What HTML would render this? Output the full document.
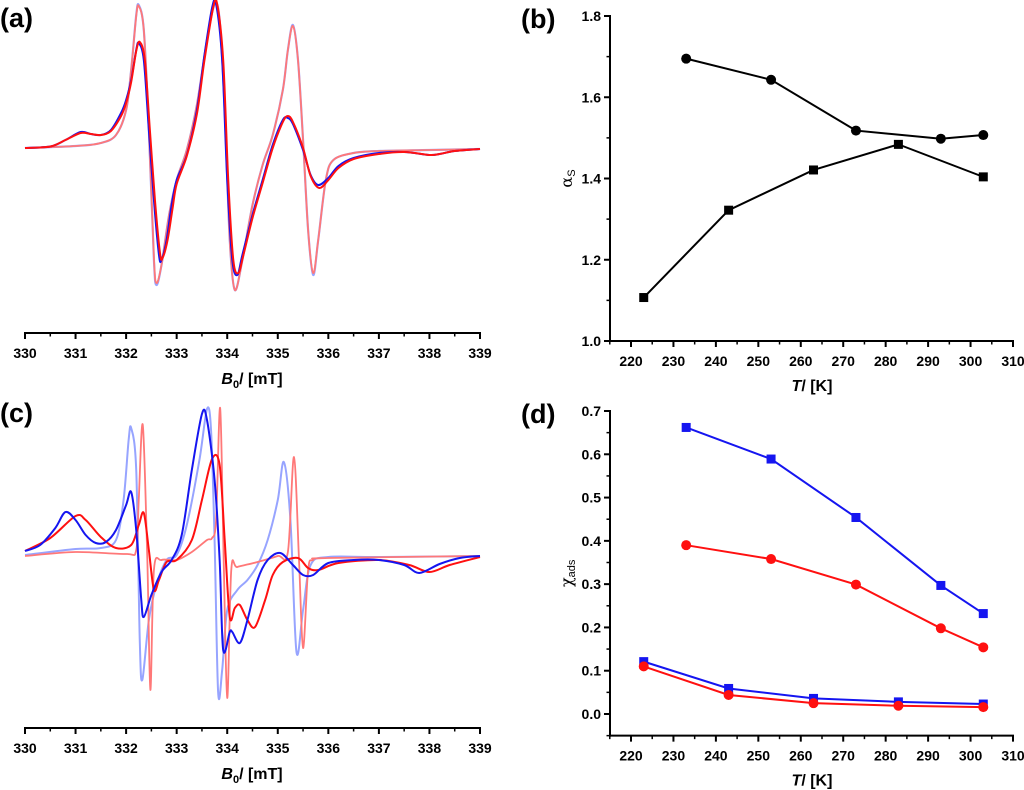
<!DOCTYPE html>
<html><head><meta charset="utf-8"><style>
html,body{margin:0;padding:0;background:#fff;}
svg{display:block;font-family:"Liberation Sans",Arial,sans-serif;}
text.tl{font-size:14px;font-weight:700;fill:#000;}
text.pl{font-size:27px;font-weight:700;fill:#000;}
text.at{font-size:16px;font-weight:700;fill:#000;}
</style></head><body>
<svg id="fig" width="1024" height="790" viewBox="0 0 1024 790" xmlns="http://www.w3.org/2000/svg"></svg>
<script>
// ---------- Data: panel (a) spectra [field mT, intensity a.u.] ----------
const aDarkBlue=[[330,0],[330.5,1.5],[330.8,8],[331.1,16],[331.3,14],[331.5,13],[331.7,18],[331.9,35],[332.0,48],[332.1,68],[332.2,98],[332.25,105],[332.35,88],[332.45,18],[332.55,-52],[332.65,-107],[332.7,-112],[332.8,-92],[332.9,-57],[333.0,-32],[333.2,-7],[333.4,38],[333.55,93],[333.7,140],[333.78,144],[333.9,88],[334.0,-32],[334.1,-112],[334.2,-127],[334.3,-107],[334.5,-67],[334.7,-32],[334.9,3],[335.1,28],[335.2,30],[335.3,24],[335.5,-2],[335.65,-27],[335.8,-37],[336.0,-30],[336.2,-18],[336.5,-10],[337.0,-5],[337.5,-4],[338.0,-7],[338.2,-6],[338.5,-3],[339,-1]];
const aDarkRed=[[330,0],[330.5,1.5],[330.8,8],[331.1,15],[331.3,14],[331.5,13],[331.7,17],[331.9,32],[332.0,45],[332.1,66],[332.2,97],[332.27,106],[332.37,88],[332.47,18],[332.57,-52],[332.67,-105],[332.72,-110],[332.82,-92],[332.92,-60],[333.0,-36],[333.2,-8],[333.4,34],[333.55,88],[333.72,140],[333.8,144],[333.92,88],[334.02,-32],[334.12,-112],[334.22,-125],[334.32,-107],[334.5,-70],[334.7,-35],[334.9,0],[335.1,26],[335.2,32],[335.3,26],[335.5,0],[335.65,-28],[335.82,-40],[336.0,-32],[336.2,-20],[336.5,-11],[337.0,-6],[337.5,-4],[338.0,-7],[338.2,-6],[338.5,-3],[339,-1]];
const aLightBlue=[[330,0],[331,2],[331.5,5],[331.8,13],[332.0,38],[332.1,78],[332.2,133],[332.25,143],[332.35,118],[332.45,18],[332.55,-112],[332.6,-137],[332.7,-117],[332.85,-67],[333.0,-32],[333.2,-2],[333.4,43],[333.6,108],[333.75,144],[333.85,128],[333.95,38],[334.05,-92],[334.15,-142],[334.3,-112],[334.5,-57],[334.7,-17],[334.9,13],[335.1,58],[335.2,98],[335.3,123],[335.4,88],[335.5,8],[335.6,-82],[335.7,-127],[335.8,-92],[335.95,-32],[336.1,-12],[336.5,-5],[337,-3],[338,-2],[339,-1]];
const aLightRed=[[330,0],[331,2],[331.5,5],[331.8,13],[332.0,38],[332.1,78],[332.2,132],[332.25,142],[332.35,118],[332.45,18],[332.55,-110],[332.6,-135],[332.7,-117],[332.85,-67],[333.0,-32],[333.2,-2],[333.4,43],[333.6,108],[333.75,144],[333.85,128],[333.95,38],[334.05,-92],[334.15,-142],[334.3,-112],[334.5,-57],[334.7,-17],[334.9,13],[335.1,58],[335.2,98],[335.3,122],[335.4,88],[335.5,8],[335.6,-82],[335.7,-125],[335.8,-92],[335.95,-32],[336.1,-12],[336.5,-5],[337,-3],[338,-2],[339,-1]];
// ---------- Data: panel (c) spectra ----------
const cDarkBlue=[[330,5],[330.3,11],[330.6,28],[330.8,44],[331.0,36],[331.2,21],[331.4,13],[331.6,14],[331.8,26],[332.0,51],[332.1,64],[332.2,26],[332.3,-44],[332.35,-61],[332.5,-39],[332.7,-16],[332.9,-4],[333.1,21],[333.3,86],[333.5,142],[333.6,136],[333.75,76],[333.85,-4],[333.92,-94],[334.05,-76],[334.1,-76],[334.25,-87],[334.4,-64],[334.6,-24],[334.8,-4],[335.05,3],[335.3,-9],[335.5,-19],[335.7,-19],[336.0,-7],[336.5,-4],[337.0,-4],[337.5,-9],[337.8,-17],[338.2,-8],[338.6,-2],[339,0]];
const cDarkRed=[[330,5],[330.5,18],[331.0,40],[331.2,36],[331.5,19],[331.8,8],[332.1,11],[332.25,31],[332.35,43],[332.45,6],[332.55,-34],[332.65,-24],[332.8,-6],[333.0,-4],[333.3,16],[333.5,56],[333.7,97],[333.85,91],[333.95,16],[334.05,-61],[334.15,-52],[334.25,-49],[334.4,-64],[334.55,-71],[334.75,-44],[334.9,-19],[335.1,-6],[335.4,-2],[335.6,-12],[335.8,-14],[336.2,-7],[337,-4],[337.6,-9],[338.0,-16],[338.4,-9],[339,-1]];
const cLightBlue=[[330,1],[331.0,7],[331.5,8],[331.8,16],[331.95,56],[332.05,116],[332.1,128],[332.2,86],[332.27,-84],[332.32,-124],[332.45,-64],[332.6,-29],[332.8,-4],[333.0,1],[333.2,31],[333.45,96],[333.6,147],[333.68,126],[333.75,16],[333.82,-136],[333.9,-114],[334.0,-54],[334.2,-34],[334.4,-24],[334.6,-9],[334.8,16],[335.0,56],[335.12,94],[335.25,36],[335.37,-96],[335.5,-54],[335.65,-9],[336,-1],[337,-1],[339,0]];
const cLightRed=[[330,0],[331,4],[332,2],[332.2,6],[332.25,56],[332.33,131],[332.42,-4],[332.48,-134],[332.55,-14],[332.7,-4],[333.0,-4],[333.3,4],[333.6,16],[333.7,18],[333.78,36],[333.86,148],[333.93,-4],[334.0,-142],[334.08,-14],[334.2,-11],[334.6,-6],[335.0,0],[335.2,4],[335.32,99],[335.42,-4],[335.5,-92],[335.6,-14],[335.7,-4],[336,-2],[339,0]];
// ---------- Data: panel (b) ----------
const bTempCircle=[233,253,273,293,303];
const bAlphaCircle=[1.695,1.643,1.518,1.498,1.507];
const bTempSquare=[223,243,263,283,303];
const bAlphaSquare=[1.107,1.322,1.421,1.484,1.404];
const bYTicks=["1.0","1.2","1.4","1.6","1.8"];
// ---------- Data: panel (d) ----------
const dTempUpper=[233,253,273,293,303];
const dBlueUpper=[0.662,0.589,0.454,0.297,0.232];
const dRedUpper=[0.390,0.358,0.299,0.198,0.154];
const dTempLower=[223,243,263,283,303];
const dBlueLower=[0.121,0.059,0.036,0.028,0.023];
const dRedLower=[0.110,0.044,0.025,0.019,0.016];
const dYTicks=["0.0","0.1","0.2","0.3","0.4","0.5","0.6","0.7"];
const tTicks=["220","230","240","250","260","270","280","290","300","310"];
const bTicks=["330","331","332","333","334","335","336","337","338","339"];

const NS="http://www.w3.org/2000/svg";
const svg=document.getElementById('fig');
function mk(tag,attrs,parent){const e=document.createElementNS(NS,tag);for(const k in attrs)e.setAttribute(k,attrs[k]);(parent||svg).appendChild(e);return e;}
function lin(d0,d1,r0,r1){return v=>r0+(v-d0)*(r1-r0)/(d1-d0);}
function smoothPath(pts){
  let d='M'+pts[0][0].toFixed(2)+','+pts[0][1].toFixed(2);
  for(let i=0;i<pts.length-1;i++){
    const p0=pts[Math.max(0,i-1)],p1=pts[i],p2=pts[i+1],p3=pts[Math.min(pts.length-1,i+2)];
    const t=0.16;
    const c1=[p1[0]+(p2[0]-p0[0])*t,p1[1]+(p2[1]-p0[1])*t];
    const c2=[p2[0]-(p3[0]-p1[0])*t,p2[1]-(p3[1]-p1[1])*t];
    d+='C'+c1.map(v=>v.toFixed(2)).join(',')+' '+c2.map(v=>v.toFixed(2)).join(',')+' '+p2[0].toFixed(2)+','+p2[1].toFixed(2);
  }
  return d;
}
function label(x,y,txt,cls,anchor,name){const t=mk('text',{x:x,y:y,class:cls,'text-anchor':anchor||'middle','font-weight':'bold'});t.textContent=txt;


return t;}

function spectrumPanel(id,top,axisY,baseY,series,panelLbl){
  const g=mk('g',{});
  
  
  const x=lin(330,339,25,480);
  const y=v=>baseY-v;
  const ax=mk('line',{x1:24,y1:axisY,x2:481,y2:axisY,stroke:'#000','stroke-width':2},g);
  
  
  for(let i=0;i<bTicks.length;i++){
    const v=330+i;
    const tk=mk('line',{x1:x(v),y1:axisY,x2:x(v),y2:axisY+6,stroke:'#000','stroke-width':2},g);
    
    
    label(x(v),axisY+25,bTicks[i],'tl','middle','x-tick-label');
    if(i<bTicks.length-1){
      const mt=mk('line',{x1:x(v+0.5),y1:axisY,x2:x(v+0.5),y2:axisY+3.5,stroke:'#000','stroke-width':1.5},g);
      
      
    }
  }
  const tt=mk('text',{x:252,y:axisY+51,class:'at','text-anchor':'middle','font-weight':'bold'},g);
  tt.innerHTML='<tspan font-style="italic">B</tspan><tspan font-size="11" dy="4">0</tspan><tspan dy="-4">/ [mT]</tspan>';
  
  
  series.forEach(s=>{
    const pts=s.data.map(p=>[x(p[0]),y(p[1])]);
    const p=mk('path',{d:smoothPath(pts),fill:'none',stroke:s.color,'stroke-width':s.w,'stroke-linejoin':'round'},g);
    
    
  });
  label(0,top+27,panelLbl,'pl','start','panel-label-'+id);
}
spectrumPanel('a',0,333,148,[
  {data:aLightBlue,color:'#97a4ff',w:2.2,name:'spectrum-a-light-blue'},
  {data:aLightRed,color:'#ff7878',w:1.8,name:'spectrum-a-light-red'},
  {data:aDarkBlue,color:'#1515f0',w:2,name:'spectrum-a-blue'},
  {data:aDarkRed,color:'#ff1010',w:2,name:'spectrum-a-red'}
],'(a)');
spectrumPanel('c',395,728,556,[
  {data:cLightBlue,color:'#97a4ff',w:2,name:'spectrum-c-light-blue'},
  {data:cLightRed,color:'#ff7878',w:1.8,name:'spectrum-c-light-red'},
  {data:cDarkRed,color:'#ff1010',w:2,name:'spectrum-c-red'},
  {data:cDarkBlue,color:'#1515f0',w:2,name:'spectrum-c-blue'}
],'(c)');

function tempPanel(id,top,yMin,yMax,yTop,yBot,axisBottomVal,ticks,tickStep,series,panelLbl,yTitle,ySub){
  const g=mk('g',{});
  
  
  const x=lin(220,310,631,1013);
  const y=lin(yMin,yMax,yBot,yTop);
  const axB=y(axisBottomVal);
  const yl=mk('line',{x1:610,y1:yTop-1,x2:610,y2:axB+1,stroke:'#000','stroke-width':2},g);
  
  
  const xl=mk('line',{x1:609,y1:axB,x2:1014,y2:axB,stroke:'#000','stroke-width':2},g);
  
  
  for(let i=0;i<tTicks.length;i++){
    const v=220+i*10;
    const tk=mk('line',{x1:x(v),y1:axB,x2:x(v),y2:axB+6,stroke:'#000','stroke-width':2},g);
    
    
    label(x(v),axB+25,tTicks[i],'tl','middle','x-tick-label');
    const mt=mk('line',{x1:x(v-5),y1:axB,x2:x(v-5),y2:axB+3.5,stroke:'#000','stroke-width':1.5},g);
    
    
  }
  for(let i=0;i<ticks.length;i++){
    const v=yMin+i*tickStep;
    const tk=mk('line',{x1:604,y1:y(v),x2:610,y2:y(v),stroke:'#000','stroke-width':2},g);
    
    
    label(601,y(v)+5,ticks[i],'tl','end','y-tick-label');
    const mv=v+tickStep/2;
    if(mv<yMax){
      const mt=mk('line',{x1:606.5,y1:y(mv),x2:610,y2:y(mv),stroke:'#000','stroke-width':1.5},g);
      
      
    }
  }
  if(axisBottomVal<yMin){
    const mt=mk('line',{x1:606.5,y1:y(yMin-tickStep/2),x2:610,y2:y(yMin-tickStep/2),stroke:'#000','stroke-width':1.5},g);
    
    
  }
  const xt=mk('text',{x:812,y:axB+50,class:'at','text-anchor':'middle','font-weight':'bold'},g);
  xt.innerHTML='<tspan font-style="italic">T</tspan>/ [K]';
  
  
  const cy=(yTop+axB)/2;
  const yt=mk('text',{x:0,y:0,transform:'translate(572,'+cy+') rotate(-90)','text-anchor':'middle','font-size':'16',fill:'#000'},g);
  yt.innerHTML='<tspan font-family="DejaVu Serif,serif">'+yTitle+'</tspan><tspan font-size="11" dy="3">'+ySub+'</tspan>';
  
  
  series.forEach(s=>{
    const pts=s.t.map((t,i)=>[x(t),y(s.v[i])]);
    const pl=mk('polyline',{points:pts.map(p=>p.join(',')).join(' '),fill:'none',stroke:s.color,'stroke-width':2},g);
    
    
    pts.forEach(p=>{
      let m;
      if(s.marker==='square') m=mk('rect',{x:p[0]-4.5,y:p[1]-4.5,width:9,height:9,fill:s.color},g);
      else m=mk('circle',{cx:p[0],cy:p[1],r:5,fill:s.color},g);
      
      
    });
  });
  label(521,top+28,panelLbl,'pl','start','panel-label-'+id);
}
tempPanel('b',0,1.0,1.8,16,341,1.0,bYTicks,0.2,[
  {t:bTempCircle,v:bAlphaCircle,color:'#000',marker:'circle',name:'alpha-circle-series'},
  {t:bTempSquare,v:bAlphaSquare,color:'#000',marker:'square',name:'alpha-square-series'}
],'(b)','α','S');
tempPanel('d',395,0.0,0.7,411,714,-0.05,dYTicks,0.1,[
  {t:dTempUpper,v:dBlueUpper,color:'#1515f0',marker:'square',name:'chi-blue-upper'},
  {t:dTempUpper,v:dRedUpper,color:'#ff1010',marker:'circle',name:'chi-red-upper'},
  {t:dTempLower,v:dBlueLower,color:'#1515f0',marker:'square',name:'chi-blue-lower'},
  {t:dTempLower,v:dRedLower,color:'#ff1010',marker:'circle',name:'chi-red-lower'}
],'(d)','χ','ads');
</script>
</body></html>
